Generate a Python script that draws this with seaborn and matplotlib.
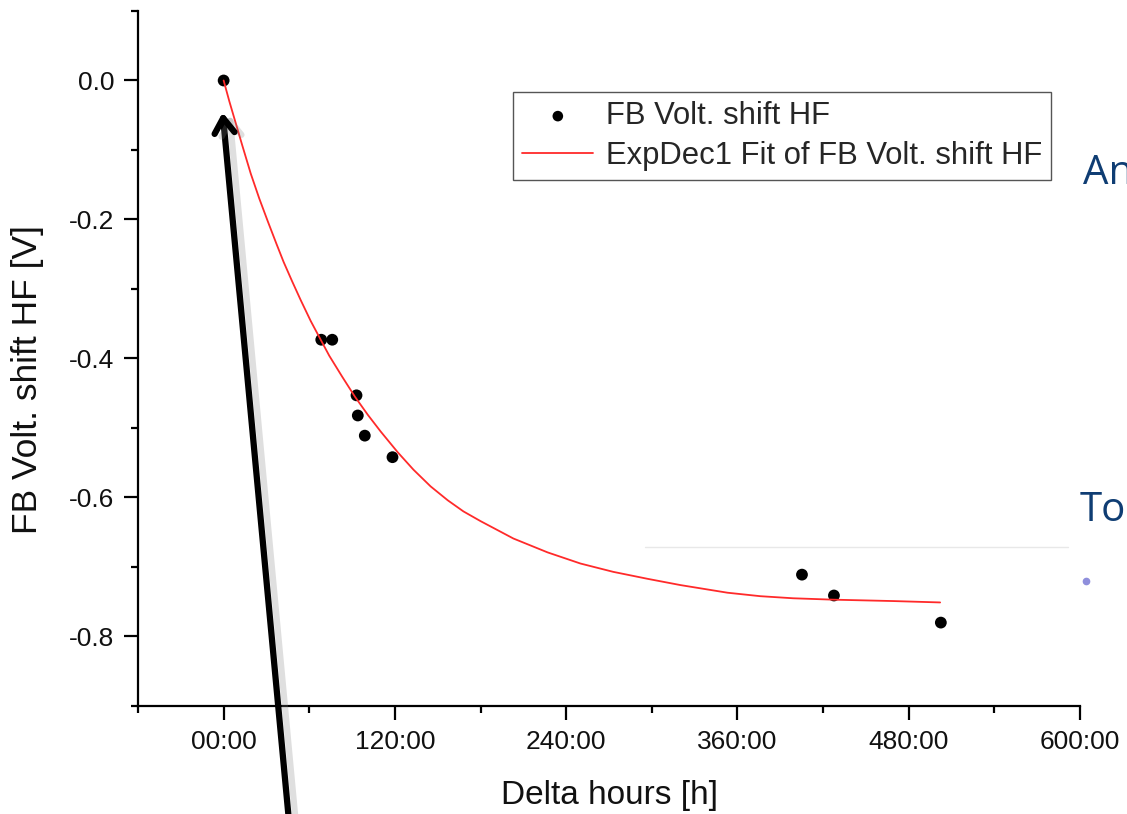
import matplotlib
matplotlib.use("Agg")
import numpy as np
import pandas as pd
import seaborn as sns
import matplotlib.pyplot as plt
import matplotlib.patheffects as pe
from matplotlib.ticker import FixedLocator

# ---- data ----
hours = [0.0, 68.4, 76.1, 93.1, 94.0, 98.9, 118.3, 405.2, 427.6, 502.5]
shift = [0.0, -0.373, -0.373, -0.453, -0.482, -0.511, -0.542, -0.711, -0.741, -0.780]

fit_hours = [0, 4, 8, 13, 19, 25, 31, 37, 42, 48, 54, 61, 68, 74, 83, 92, 101, 110,
             122, 133, 145, 157, 168, 180, 203, 227, 250, 273, 297, 320, 353, 376,
             399, 427, 469, 502]
fit_shift = [0.0, -0.030, -0.058, -0.093, -0.134, -0.170, -0.203, -0.235, -0.261,
             -0.289, -0.316, -0.346, -0.373, -0.396, -0.426, -0.455, -0.481, -0.505,
             -0.535, -0.560, -0.584, -0.604, -0.620, -0.634, -0.659, -0.679, -0.695,
             -0.707, -0.717, -0.726, -0.737, -0.742, -0.745, -0.747, -0.749, -0.751]

x_major = [0, 120, 240, 360, 480, 600]
x_major_labels = ["00:00", "120:00", "240:00", "360:00", "480:00", "600:00"]
x_minor = [-60, 60, 180, 300, 420, 540]
y_major = [-0.8, -0.6, -0.4, -0.2, 0.0]
y_major_labels = ["-0.8", "-0.6", "-0.4", "-0.2", "0.0"]
y_minor = [-0.9, -0.7, -0.5, -0.3, -0.1, 0.1]

series_label = "FB Volt. shift HF"
fit_label = "ExpDec1 Fit of FB Volt. shift HF"

pts = pd.DataFrame({"hours": hours, "shift": shift})
fit = pd.DataFrame({"hours": fit_hours, "shift": fit_shift})

sns.set_theme(style="ticks")
plt.rcParams["font.family"] = ["Liberation Sans", "DejaVu Sans"]

fig = plt.figure(figsize=(11.27, 8.14), dpi=100)
ax = fig.add_axes([0.12245, 0.13268, 0.83585, 0.85381])

sns.scatterplot(data=pts, x="hours", y="shift", ax=ax, color="black", s=72,
                edgecolor="none", label=series_label, zorder=3)
sns.lineplot(data=fit, x="hours", y="shift", ax=ax, color="#ff2a2a", lw=1.3,
             sort=False, estimator=None, label=fit_label, zorder=4)

ax.set_xlim(-60, 600)
ax.set_ylim(-0.9, 0.1)
ax.xaxis.set_major_locator(FixedLocator(x_major))
ax.set_xticklabels(x_major_labels)
ax.xaxis.set_minor_locator(FixedLocator(x_minor))
ax.yaxis.set_major_locator(FixedLocator(y_major))
ax.set_yticklabels(y_major_labels)
ax.yaxis.set_minor_locator(FixedLocator(y_minor))

for s in ["top", "right"]:
    ax.spines[s].set_visible(False)
for s in ["left", "bottom"]:
    ax.spines[s].set_linewidth(1.6)
    ax.spines[s].set_color("black")

ax.tick_params(which="major", direction="out", length=10, width=1.6,
               labelsize=19, color="black", labelcolor="#111111", pad=7)
ax.tick_params(which="minor", direction="out", length=5, width=1.6, color="black")
ax.grid(False)
ax.set_facecolor("white")

ax.set_xlabel("Delta hours [h]", fontsize=24, color="#111111")
ax.set_ylabel("FB Volt. shift HF [V]", fontsize=25.5, color="#111111")
ax.xaxis.set_label_coords(0.5, -0.107)
ax.yaxis.set_label_coords(-0.1, 0.47)

leg = ax.legend(loc="upper left", bbox_to_anchor=(0.398, 0.8835), borderaxespad=0,
                fontsize=22.3, frameon=True, fancybox=False, framealpha=1,
                edgecolor="#555555", handlelength=2.3, handletextpad=0.4,
                borderpad=0.3, labelspacing=0.3, markerscale=0.9)
leg.get_frame().set_linewidth(1.0)

# annotation arrow (overlay in the reference)
ax.annotate("", xy=(-0.7, -0.046), xycoords="data",
            xytext=(290 / 1127, -18 / 814), textcoords="figure fraction",
            annotation_clip=False,
            arrowprops=dict(arrowstyle="->,head_length=0.9,head_width=0.6",
                            lw=4.5, color="black", shrinkA=0, shrinkB=0,
                            path_effects=[pe.SimpleLineShadow(offset=(5, -2),
                                                              shadow_color="gray",
                                                              alpha=0.25),
                                          pe.Normal()]),
            zorder=6)

# slide fragments visible in the reference
fig.text(1083 / 1127, 1 - 184 / 814, "An", fontsize=29, color="#0f3d73",
         family=["Open Sans", "DejaVu Sans"], ha="left", va="baseline")
fig.text(1080 / 1127, 1 - 521 / 814, "To", fontsize=29, color="#0f3d73",
         family=["Open Sans", "DejaVu Sans"], ha="left", va="baseline")
fig.add_artist(plt.Line2D([645 / 1127, 1068 / 1127], [1 - 547 / 814, 1 - 547 / 814],
                          transform=fig.transFigure, color="#e8e8e8", lw=1))
fig.add_artist(plt.Line2D([1086 / 1127], [1 - 581 / 814], transform=fig.transFigure,
                          marker="o", markersize=4.5, color="#8f8fdc", lw=0))

fig.savefig("out.png", dpi=100)
